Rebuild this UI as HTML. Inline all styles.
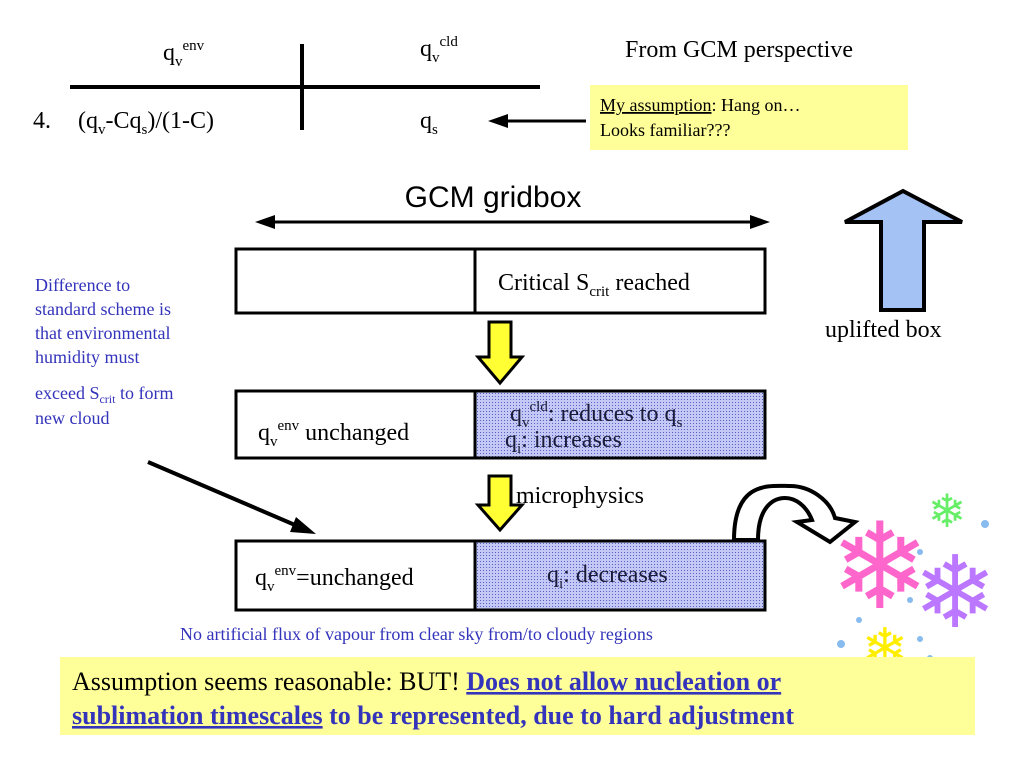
<!DOCTYPE html>
<html><head><meta charset="utf-8"><style>
html,body{margin:0;padding:0;background:#fff;}
svg{display:block;}
text{font-family:"Liberation Serif",serif;}
</style></head><body>
<svg width="1024" height="768" viewBox="0 0 1024 768" xmlns="http://www.w3.org/2000/svg">
<defs>
<pattern id="dots" width="3" height="3" patternUnits="userSpaceOnUse">
<rect width="3" height="3" fill="#c4c8f4"/><rect width="1" height="1" fill="#5a5fc8"/>
</pattern>
</defs>
<!-- top table -->
<line x1="70" y1="87" x2="540" y2="87" stroke="#000" stroke-width="4"/>
<line x1="302" y1="44" x2="302" y2="130" stroke="#000" stroke-width="4"/>
<text x="163" y="60" font-size="24">q<tspan font-size="15" dy="6">v</tspan><tspan font-size="15" dy="-16">env</tspan></text>
<text x="420" y="56" font-size="24">q<tspan font-size="15" dy="6">v</tspan><tspan font-size="15" dy="-16">cld</tspan></text>
<text x="33" y="128" font-size="24">4.</text>
<text x="78" y="128" font-size="24">(q<tspan font-size="15" dy="6">v</tspan><tspan dy="-6">-Cq</tspan><tspan font-size="15" dy="6">s</tspan><tspan dy="-6">)/(1-C)</tspan></text>
<text x="420" y="128" font-size="24">q<tspan font-size="15" dy="6">s</tspan></text>
<line x1="505" y1="121" x2="586" y2="121" stroke="#000" stroke-width="3"/>
<polygon points="488,121 508,114 508,128" fill="#000"/>
<text x="625" y="57" font-size="24">From GCM perspective</text>
<rect x="590" y="85" width="318" height="65" fill="#ffff99"/>
<text x="600" y="111" font-size="18"><tspan text-decoration="underline">My assumption</tspan>: Hang on…</text>
<text x="600" y="136" font-size="18">Looks familiar???</text>
<!-- GCM gridbox -->
<text x="493" y="207" font-size="30" text-anchor="middle" style="font-family:'Liberation Sans',sans-serif">GCM gridbox</text>
<line x1="270" y1="222" x2="755" y2="222" stroke="#000" stroke-width="3"/>
<polygon points="255,222 275,215 275,229" fill="#000"/>
<polygon points="770,222 750,215 750,229" fill="#000"/>
<!-- box1 -->
<rect x="236" y="249" width="529" height="64" fill="#fff" stroke="#000" stroke-width="3"/>
<line x1="475" y1="249" x2="475" y2="313" stroke="#000" stroke-width="3"/>
<text x="498" y="290" font-size="24">Critical S<tspan font-size="15" dy="6">crit</tspan><tspan dy="-6"> reached</tspan></text>
<!-- arrow1 -->
<polygon points="489,322 511,322 511,357 522,357 500,383 478,357 489,357" fill="#ffff33" stroke="#000" stroke-width="3"/>
<!-- box2 -->
<rect x="475" y="391" width="290" height="67" fill="url(#dots)"/>
<rect x="236" y="391" width="529" height="67" fill="none" stroke="#000" stroke-width="3"/>
<line x1="475" y1="391" x2="475" y2="458" stroke="#000" stroke-width="3"/>
<text x="258" y="440" font-size="24">q<tspan font-size="15" dy="6">v</tspan><tspan font-size="15" dy="-16">env</tspan><tspan dy="10"> unchanged</tspan></text>
<text x="510" y="421" font-size="24" fill="#1a1a3a">q<tspan font-size="15" dy="6">v</tspan><tspan font-size="15" dy="-16">cld</tspan><tspan dy="10">: reduces to q</tspan><tspan font-size="15" dy="6">s</tspan></text>
<text x="505" y="447" font-size="24" fill="#1a1a3a">q<tspan font-size="15" dy="6">i</tspan><tspan dy="-6">: increases</tspan></text>
<!-- arrow2 -->
<polygon points="489,476 511,476 511,505 522,505 500,530 478,505 489,505" fill="#ffff33" stroke="#000" stroke-width="3"/>
<text x="516" y="503" font-size="24">microphysics</text>
<!-- box3 -->
<rect x="475" y="541" width="290" height="69" fill="url(#dots)"/>
<rect x="236" y="541" width="529" height="69" fill="none" stroke="#000" stroke-width="3"/>
<line x1="475" y1="541" x2="475" y2="610" stroke="#000" stroke-width="3"/>
<text x="255" y="585" font-size="24">q<tspan font-size="15" dy="6">v</tspan><tspan font-size="15" dy="-16">env</tspan><tspan dy="10">=unchanged</tspan></text>
<text x="547" y="582" font-size="24" fill="#1a1a3a">q<tspan font-size="15" dy="6">i</tspan><tspan dy="-6">: decreases</tspan></text>
<!-- curved arrow -->
<path d="M734,540 C734,480 770,486 790,486 C810,486 830,500 835,518 L855,522 L830,542 L797,522 L812,520 C806,505 795,498 785,498 C775,498 758,505 758,540 Z" fill="#fff" stroke="#000" stroke-width="4" stroke-linejoin="miter"/>
<!-- left note -->
<g font-size="18" fill="#3333bb">
<text x="35" y="291">Difference to</text>
<text x="35" y="315">standard scheme is</text>
<text x="35" y="339">that environmental</text>
<text x="35" y="363">humidity must</text>
<text x="35" y="399" y2="0"><tspan y="399">exceed S</tspan><tspan font-size="12" dy="4">crit</tspan><tspan dy="-4"> to form</tspan></text>
<text x="35" y="424">new cloud</text>
</g>
<line x1="148" y1="462" x2="302" y2="528" stroke="#000" stroke-width="4"/>
<polygon points="316,534 296,517 290,532" fill="#000"/>
<!-- up arrow -->
<polygon points="903,191 962,222 924,222 924,310 881,310 881,222 845,222" fill="#a4c2f4" stroke="#000" stroke-width="4" stroke-linejoin="miter"/>
<text x="825" y="337" font-size="24">uplifted box</text>
<!-- snowflakes -->
<text x="880" y="608" font-size="120" fill="#ff66cc" text-anchor="middle" style="font-family:'DejaVu Sans',sans-serif">❄</text>
<text x="955" y="627" font-size="100" fill="#bb77ff" text-anchor="middle" style="font-family:'DejaVu Sans',sans-serif">❄</text>
<text x="947" y="527" font-size="46" fill="#66ee66" text-anchor="middle" style="font-family:'DejaVu Sans',sans-serif">❄</text>
<text x="885" y="668" font-size="56" fill="#ffee00" text-anchor="middle" style="font-family:'DejaVu Sans',sans-serif">❄</text>
<g fill="#88bbee"><circle cx="985" cy="524" r="4"/><circle cx="841" cy="644" r="4"/><circle cx="859" cy="620" r="3"/><circle cx="920" cy="552" r="3"/><circle cx="920" cy="639" r="3"/><circle cx="930" cy="658" r="3"/><circle cx="910" cy="600" r="3"/></g>
<!-- bottom -->
<text x="180" y="640" font-size="18" fill="#3333bb">No artificial flux of vapour from clear sky from/to cloudy regions</text>
<rect x="60" y="657" width="915" height="78" fill="#ffff99"/>
<text x="72" y="690" font-size="26">Assumption seems reasonable: BUT! <tspan fill="#3333bb" font-weight="bold" text-decoration="underline">Does not allow nucleation or</tspan></text>
<text x="72" y="724" font-size="26" fill="#3333bb" font-weight="bold"><tspan text-decoration="underline">sublimation timescales</tspan> to be represented, due to hard adjustment</text>
</svg>
</body></html>
